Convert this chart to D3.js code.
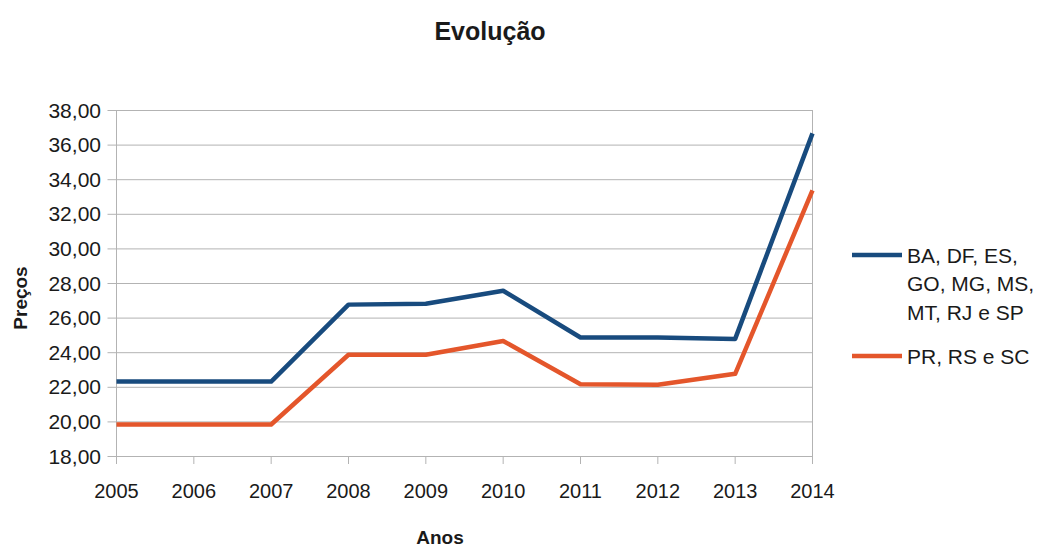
<!DOCTYPE html>
<meta charset="utf-8">
<title>Evolução</title>
<style>
  body { margin: 0; background: #fff; }
  text { font-family: "Liberation Sans", Arial, sans-serif; fill: #1a1a1a; }
</style>
<svg width="1039" height="547"></svg>
<script src="https://cdn.jsdelivr.net/npm/d3@7"></script>
<script>

  var years = [2005, 2006, 2007, 2008, 2009, 2010, 2011, 2012, 2013, 2014];
  var seriesNames = ["BA, DF, ES, GO, MG, MS, MT, RJ e SP", "PR, RS e SC"];
  var legendLines = [["BA, DF, ES,", "GO, MG, MS,", "MT, RJ e SP"], ["PR, RS e SC"]];
  var valuesA = [22.3, 22.3, 22.3, 26.75, 26.8, 27.55, 24.85, 24.85, 24.77, 36.65];
  var valuesB = [19.82, 19.82, 19.82, 23.85, 23.85, 24.65, 22.15, 22.12, 22.75, 33.35];
  var yTicks = [18, 20, 22, 24, 26, 28, 30, 32, 34, 36, 38];
  var colors = ["#184b7e", "#e4562b"];

  var svg = d3.select("svg"),
      plotLeft = 116.5, plotRight = 812.5, plotTop = 110, plotBottom = 456;

  var x = d3.scalePoint().domain(years).range([plotLeft, plotRight]);
  var y = d3.scaleLinear().domain([18, 38]).range([plotBottom, plotTop]);

  // gridlines
  svg.append("g").selectAll("line")
      .data(yTicks)
      .enter().append("line")
      .attr("x1", plotLeft - 9).attr("x2", plotRight)
      .attr("y1", function(d) { return y(d) + 0.5; })
      .attr("y2", function(d) { return y(d) + 0.5; })
      .attr("stroke", "#b3b3b3");

  // frame sides
  svg.append("line").attr("x1", plotLeft).attr("x2", plotLeft).attr("y1", plotTop).attr("y2", plotBottom + 8).attr("stroke", "#b3b3b3");
  svg.append("line").attr("x1", plotRight).attr("x2", plotRight).attr("y1", plotTop).attr("y2", plotBottom + 8).attr("stroke", "#b3b3b3");

  // x ticks
  svg.append("g").selectAll("line")
      .data(years)
      .enter().append("line")
      .attr("x1", function(d) { return x(d); })
      .attr("x2", function(d) { return x(d); })
      .attr("y1", plotBottom).attr("y2", plotBottom + 8)
      .attr("stroke", "#b3b3b3");

  var fmt = function(d) { return d3.format(".2f")(d).replace(".", ","); };

  svg.append("g").selectAll("text")
      .data(yTicks)
      .enter().append("text")
      .attr("x", 101)
      .attr("y", function(d) { return y(d); })
      .attr("dy", "0.36em")
      .attr("text-anchor", "end")
      .style("font-size", "21px")
      .text(fmt);

  svg.append("g").selectAll("text")
      .data(years)
      .enter().append("text")
      .attr("x", function(d) { return x(d); })
      .attr("y", 498)
      .attr("text-anchor", "middle")
      .style("font-size", "20px")
      .text(function(d) { return d; });

  // lines
  var line = d3.line()
      .x(function(d, i) { return x(years[i]); })
      .y(function(d) { return y(d); });

  svg.selectAll("path.series")
      .data([valuesA, valuesB])
      .enter().append("path")
      .attr("class", "series")
      .attr("d", line)
      .attr("fill", "none")
      .attr("stroke", function(d, i) { return colors[i]; })
      .attr("stroke-width", 4.5)
      .attr("stroke-linejoin", "round");

  // titles
  svg.append("text")
      .attr("x", 490).attr("y", 40)
      .attr("text-anchor", "middle")
      .style("font-size", "25px").style("font-weight", "bold")
      .text("Evolução");

  svg.append("text")
      .attr("x", 440).attr("y", 544)
      .attr("text-anchor", "middle")
      .style("font-size", "19px").style("font-weight", "bold")
      .text("Anos");

  svg.append("text")
      .attr("transform", "translate(27,298) rotate(-90)")
      .attr("text-anchor", "middle")
      .style("font-size", "19px").style("font-weight", "bold")
      .text("Preços");

  // legend
  var legendY = [255, 356];
  var legend = svg.append("g").selectAll("g")
      .data(seriesNames)
      .enter().append("g")
      .attr("transform", function(d, i) { return "translate(852," + legendY[i] + ")"; });

  legend.append("line")
      .attr("x1", 0).attr("x2", 50)
      .attr("stroke", function(d, i) { return colors[i]; })
      .attr("stroke-width", 4.5);

  legend.each(function(d, i) {
    d3.select(this).selectAll("text")
        .data(legendLines[i])
        .enter().append("text")
        .attr("x", 55)
        .attr("y", function(t, j) { return j * 28.5; })
        .attr("dy", "0.36em")
        .style("font-size", "21px")
        .text(function(t) { return t; });
  });

</script>
